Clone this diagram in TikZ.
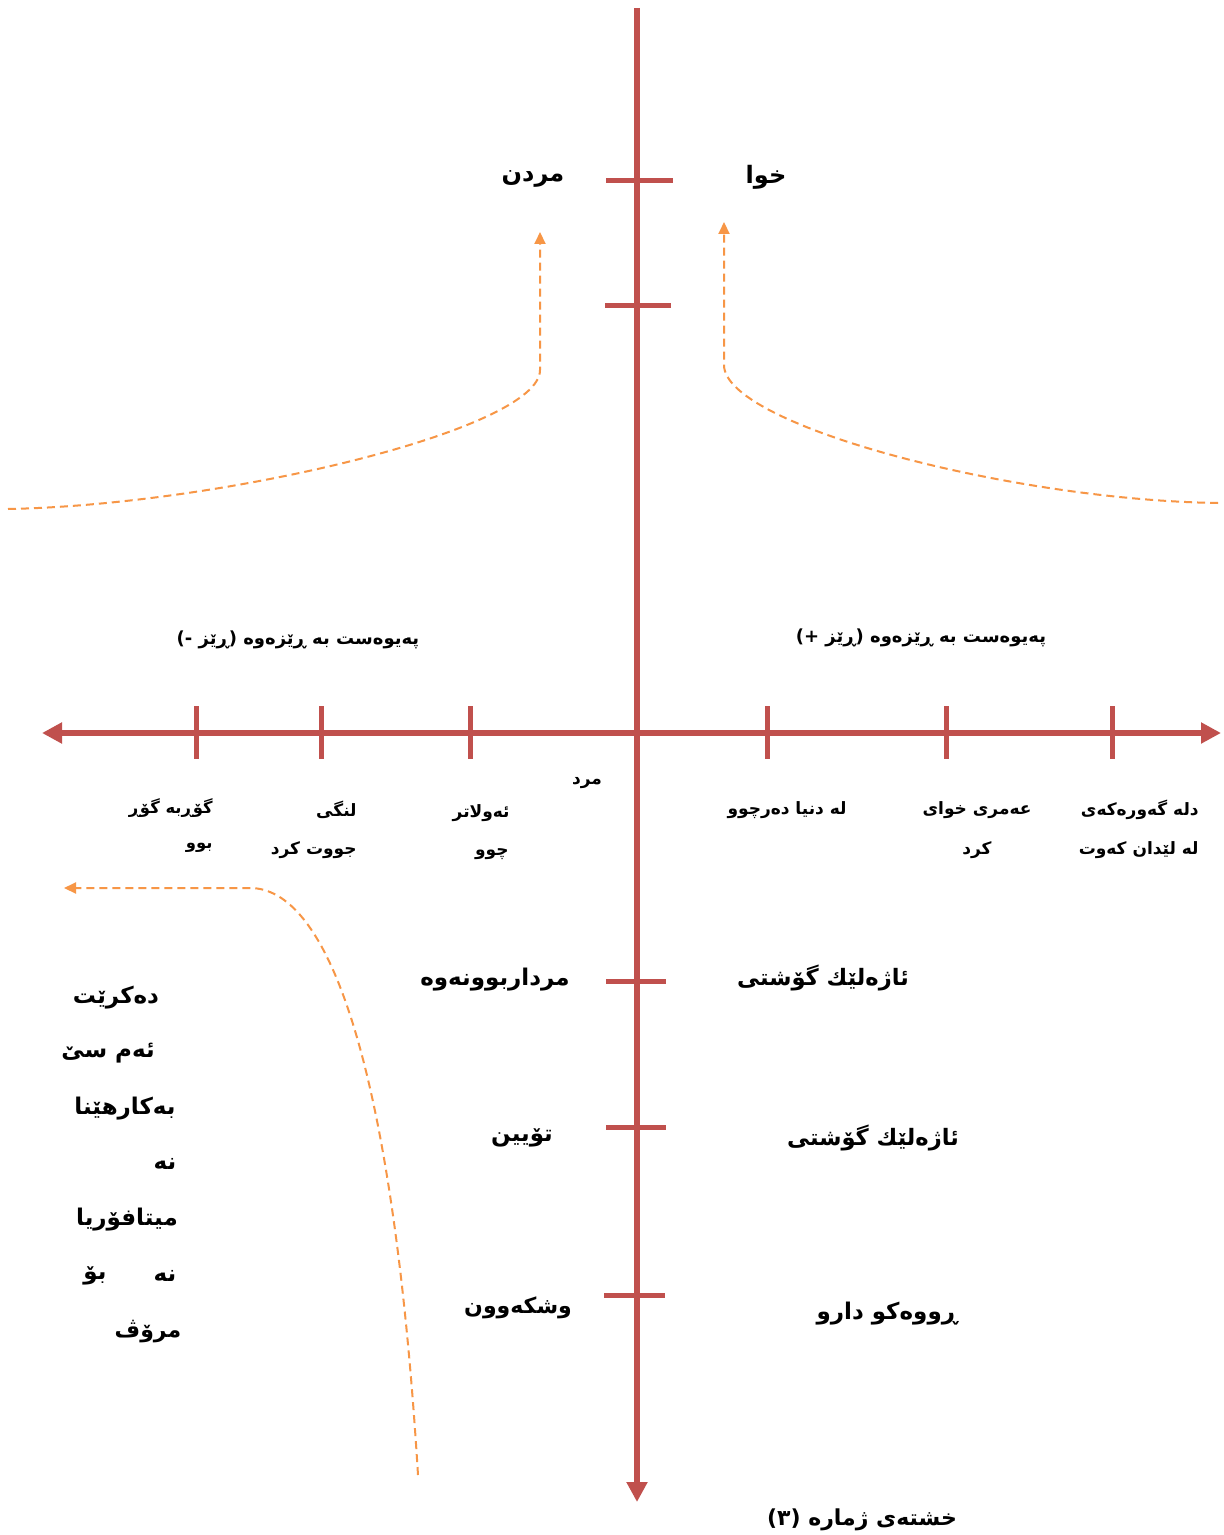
\documentclass[tikz,border=0pt]{standalone}
\usepackage{fontspec}
\usetikzlibrary{arrows.meta}
\TeXXeTstate=1
\newfontfamily\kufont[Script=Arabic]{DejaVu Sans}
\newfontfamily\latfont{DejaVu Sans}
\newcommand{\kt}[1]{\beginR #1\endR}
\newcommand{\lt}[1]{{\latfont\bfseries #1}}
\definecolor{axisred}{HTML}{C0504D}
\definecolor{flow}{HTML}{F79646}
\tikzset{
  axis/.style={axisred, line width=3pt},
  tick/.style={axisred, line width=2.5pt},
  flowline/.style={flow, line width=1pt, dash pattern=on 4pt off 2.5pt},
  flowtip/.style={-{Triangle[length=6pt,width=5.5pt]}},
  lbl/.style={inner sep=0pt, yshift=-2.5pt, font=\kufont\bfseries\fontsize{#1}{#1}\selectfont},
  lbl/.default=9
}
\begin{document}
\begin{tikzpicture}[x=0.5pt,y=-0.5pt]
\useasboundingbox[fill=white] (0,0) rectangle (1223,1535);

% axes
\coordinate (vtop) at (637,8);
\coordinate (vbot) at (637,1502);
\coordinate (hl) at (42,733);
\coordinate (hr) at (1221,733);
\draw[axis,-{Triangle[length=10pt,width=10pt]}] (vtop) -- (vbot);
\draw[axis,{Triangle[length=10pt,width=10pt]}-{Triangle[length=10pt,width=10pt]}] (hl) -- (hr);

% ticks on the vertical axis
\foreach \y/\a/\b in {181/606/673, 306/605/671, 981/606/666, 1127/606/666, 1295/604/665}
  \draw[tick] (\a,\y) -- (\b,\y);
% ticks on the horizontal axis
\foreach \x in {196,321,470,767,946,1112}
  \draw[tick] (\x,706) -- (\x,759);

% top labels
\node[lbl=12] (death) at (533,174) {\kt{مردن}};
\node[lbl=12] (god) at (766,172) {\kt{خوا}};

% dashed flows towards the top
\coordinate (lstart) at (8,509);
\coordinate (lbend) at (540,370);
\coordinate (ltip) at (540,232);
\draw[flowline,flowtip] (lstart) .. controls (220,505) and (540,430) .. (lbend) -- (ltip);
\coordinate (rstart) at (1218,503);
\coordinate (rbend) at (724,365);
\coordinate (rtip) at (724,222);
\draw[flowline,flowtip] (rstart) .. controls (1010,500) and (724,425) .. (rbend) -- (rtip);

% side headings (the bracketed part is set left to right piece by piece)
\node[lbl=9] (neg) at (298,635) {\lt{(-} \kt{ڕێز}\lt{)} \kt{پەیوەست بە ڕێزەوە}};
\node[lbl=9] (pos) at (921,633) {\lt{(+} \kt{ڕێز}\lt{)} \kt{پەیوەست بە ڕێزەوە}};

% labels under the horizontal axis
\node[lbl=8.2, anchor=east] (a1) at (213,803) {\kt{گۆڕبە گۆڕ}};
\node[lbl=8.2, anchor=east] (a2) at (213,843) {\kt{بوو}};
\node[lbl=8.5, anchor=east] (b1) at (357,805) {\kt{لنگی}};
\node[lbl=8.5, anchor=east] (b2) at (357,845) {\kt{جووت کرد}};
\node[lbl=8.5, anchor=east] (c1) at (510,808) {\kt{ئەولاتر}};
\node[lbl=8.5, anchor=east] (c2) at (509,849) {\kt{چوو}};
\node[lbl=8.5] (d1) at (587,778) {\kt{مرد}};
\node[lbl=8.5] (e1) at (787,805) {\kt{لە دنیا دەرچوو}};
\node[lbl=8.5] (f1) at (977,805) {\kt{عەمری خوای}};
\node[lbl=8.5] (f2) at (977,845) {\kt{کرد}};
\node[lbl=8.5, anchor=east] (g1) at (1199,805) {\kt{دلە گەورەکەی}};
\node[lbl=8.5, anchor=east] (g2) at (1199,845) {\kt{لە لێدان کەوت}};

% dashed flow along the lower left
\coordinate (bstart) at (418,1475);
\coordinate (bbend) at (250,888);
\coordinate (btip) at (64,888);
\draw[flowline,flowtip] (bstart) .. controls (392,1050) and (325,888) .. (bbend) -- (btip);

% labels beside the lower ticks
\node[lbl=11.5] (rot) at (495,975) {\kt{مرداربوونەوە}};
\node[lbl=11.3] (meat1) at (823,973) {\kt{ئاژەلێك گۆشتی}};
\node[lbl=11.5] (melt) at (522,1133) {\kt{تۆیین}};
\node[lbl=11.3] (meat2) at (873,1133) {\kt{ئاژەلێك گۆشتی}};
\node[lbl=11] (dry) at (518,1303) {\kt{وشکەوون}};
\node[lbl=11.5] (plant) at (887,1309) {\kt{ڕووەكو دارو}};

% note column
\node[lbl=11.5] (n1) at (116,993) {\kt{دەکرێت}};
\node[lbl=11.5] (n2) at (108,1048) {\kt{ئەم سێ}};
\node[lbl=11.5] (n3) at (125,1104) {\kt{بەکارهێنا}};
\node[lbl=11.5] (n4) at (165,1159) {\kt{نە}};
\node[lbl=11.5] (n5) at (127,1215) {\kt{میتافۆریا}};
\node[lbl=11.5] (n6) at (165,1271) {\kt{نە}};
\node[lbl=11.5] (n7) at (95,1271) {\kt{بۆ}};
\node[lbl=11] (n8) at (148,1327) {\kt{مرۆڤ}};

% caption
\node[lbl=11] (cap) at (862,1515) {\lt{(}\kt{٣}\lt{)} \kt{خشتەی ژمارە}};
\end{tikzpicture}
\end{document}
